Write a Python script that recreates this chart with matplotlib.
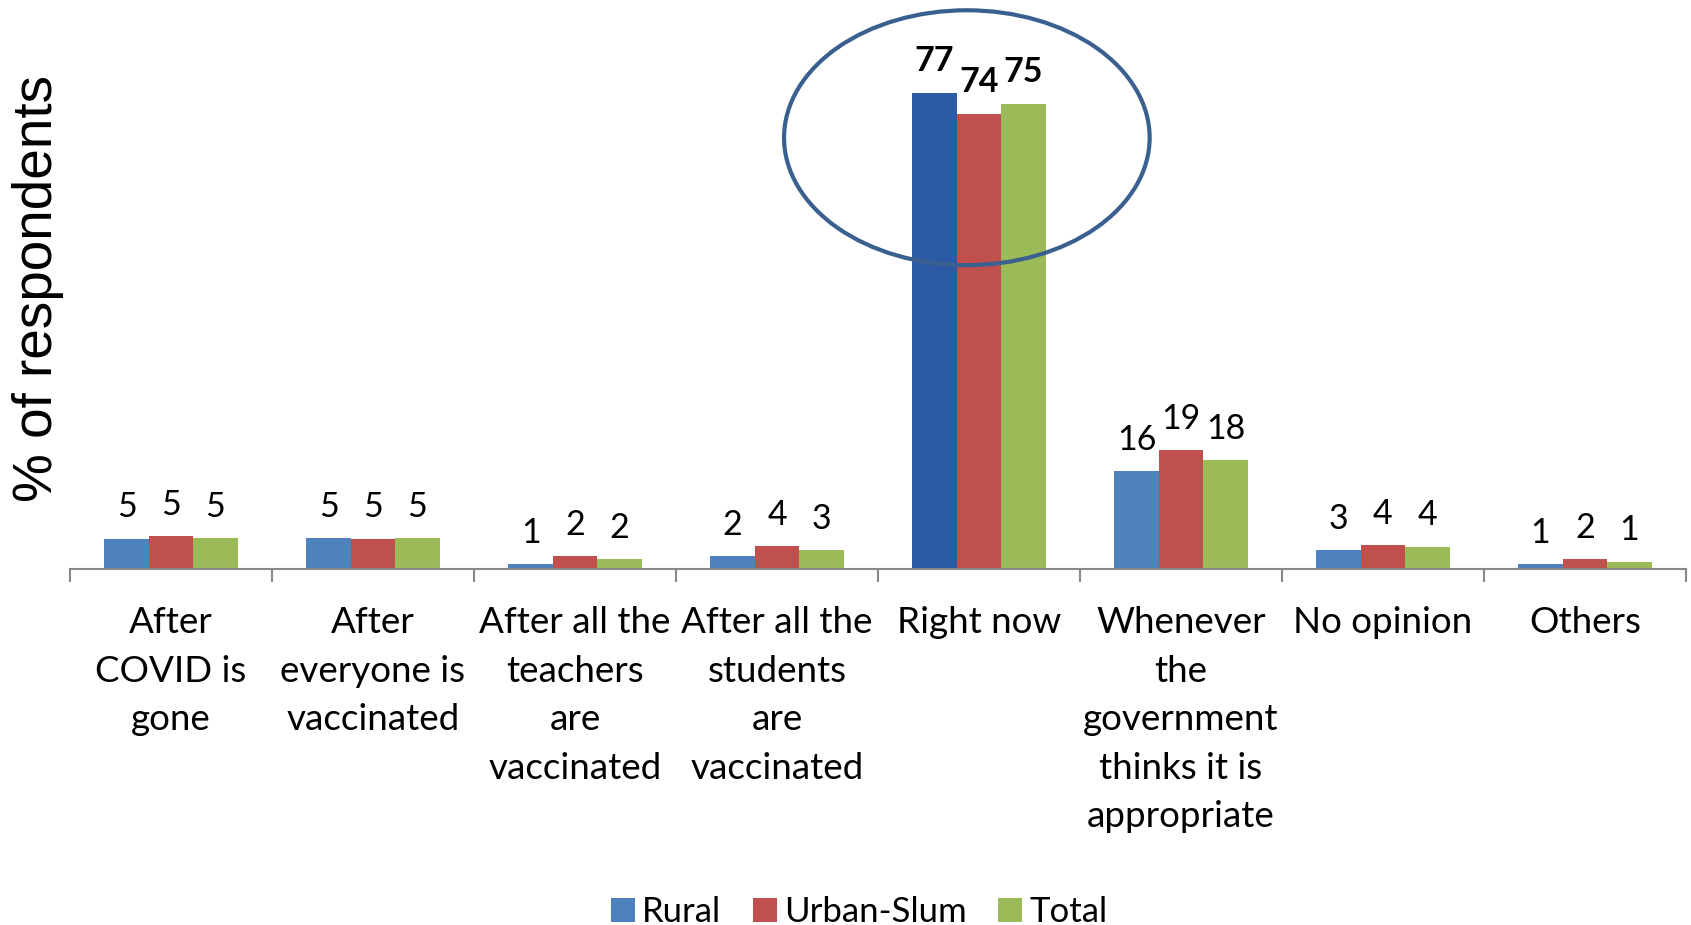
import matplotlib
matplotlib.use("Agg")
import matplotlib.pyplot as plt
from matplotlib.patches import Ellipse, Patch
import numpy as np

categories = [
    "After\nCOVID is\ngone",
    "After\neveryone is\nvaccinated",
    "After all the\nteachers\nare\nvaccinated",
    "After all the\nstudents\nare\nvaccinated",
    "Right now",
    "Whenever\nthe\ngovernment\nthinks it is\nappropriate",
    "No opinion",
    "Others",
]
series_names = ["Rural", "Urban-Slum", "Total"]
rural = [4.9, 5.0, 0.8, 2.1, 77.0, 15.8, 3.0, 0.8]
urban_slum = [5.3, 4.9, 2.1, 3.7, 73.6, 19.2, 3.9, 1.6]
total = [5.0, 5.0, 1.6, 3.0, 75.2, 17.6, 3.6, 1.2]

colors = ["#4F81BD", "#C0504D", "#9BBB59"]
highlight_idx = 4
highlight_rural = "#2C5AA5"

label_font = "Lato"

fig = plt.figure(figsize=(16.91, 9.25), dpi=100)
ax = fig.add_axes([0.0414, 0.3849, 0.9556, 0.5351])

x = np.arange(len(categories))
width = 0.22
offsets = [-width, 0.0, width]

for s, (vals, off, col) in enumerate(zip([rural, urban_slum, total], offsets, colors)):
    bar_colors = [col] * len(vals)
    if s == 0:
        bar_colors[highlight_idx] = highlight_rural
    bars = ax.bar(x + off, vals, width=width, color=bar_colors, zorder=2)
    for i, (b, v) in enumerate(zip(bars, vals)):
        ax.annotate(f"{v:.0f}", (b.get_x() + b.get_width() / 2, v),
                    xytext=(0, 11), textcoords="offset points",
                    ha="center", va="bottom", fontsize=24.5,
                    family=label_font,
                    fontweight="bold" if i == highlight_idx else "normal")

ax.set_xlim(-0.5, len(categories) - 0.5)
ax.set_ylim(0, 80)

# category boundaries as downward ticks, labels centred under each group
ax.set_xticks(np.arange(-0.5, len(categories)), minor=True)
ax.set_xticks(x)
ax.set_xticklabels(categories, fontsize=26.5, family=label_font, linespacing=1.57)
ax.tick_params(axis="x", which="major", length=0, pad=27)
ax.tick_params(axis="x", which="minor", length=9, width=1.5, color="#888888",
               direction="out")
ax.set_yticks([])
for side in ["top", "right", "left"]:
    ax.spines[side].set_visible(False)
ax.spines["bottom"].set_color("#888888")
ax.spines["bottom"].set_linewidth(1.5)

fig.text(0.0225, 0.6876, "% of respondents", rotation=90, ha="center",
         va="center", fontsize=39.5, family="Liberation Sans")

# ring around the "Right now" group
ring = Ellipse((3.94, 69.7), width=1.81, height=41.2, fill=False,
               edgecolor="#3A6090", linewidth=3, zorder=3, clip_on=False)
ax.add_patch(ring)

handles = [Patch(facecolor=c, edgecolor="none") for c in colors]
fig.legend(handles, series_names, loc="lower center",
           bbox_to_anchor=(0.508, -0.037), ncol=3, frameon=False,
           prop={"family": label_font, "size": 25},
           handlelength=0.7, handleheight=0.7, handletextpad=0.2,
           columnspacing=0.9)

fig.savefig("out.png", dpi=100)
